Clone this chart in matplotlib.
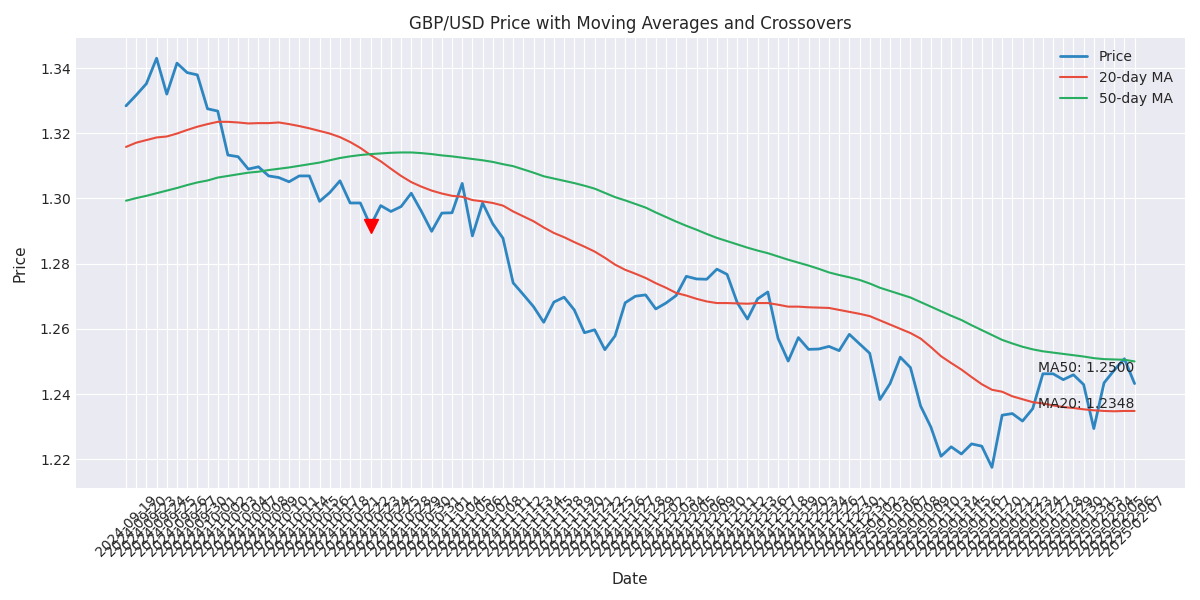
import numpy as np
import pandas as pd
import matplotlib
matplotlib.use('Agg')
import matplotlib.pyplot as plt

# Trading days shown on the chart (weekdays, Christmas and New Year missing)
dates = pd.bdate_range('2024-09-19', '2025-02-07')
dates = dates[~dates.isin(pd.to_datetime(['2024-12-25', '2025-01-01']))]
date_labels = [d.strftime('%Y-%m-%d') for d in dates]

# Close price
price = [
    1.3284, 1.3317, 1.3352, 1.3430, 1.3320, 1.3415, 1.3386, 1.3379, 1.3275, 1.3268,
    1.3133, 1.3128, 1.3090, 1.3097, 1.3069, 1.3064, 1.3051, 1.3069, 1.3069, 1.2991,
    1.3018, 1.3054, 1.2986, 1.2986, 1.2916, 1.2978, 1.2960, 1.2975, 1.3016, 1.2960,
    1.2899, 1.2955, 1.2956, 1.3046, 1.2885, 1.2986, 1.2922, 1.2878, 1.2741, 1.2705,
    1.2668, 1.2620, 1.2682, 1.2697, 1.2658, 1.2588, 1.2597, 1.2536, 1.2578, 1.2680,
    1.2700, 1.2704, 1.2661, 1.2679, 1.2702, 1.2761, 1.2753, 1.2752, 1.2783, 1.2767,
    1.2680, 1.2630, 1.2692, 1.2713, 1.2571, 1.2501, 1.2573, 1.2537, 1.2538, 1.2546,
    1.2533, 1.2583, 1.2554, 1.2525, 1.2383, 1.2432, 1.2513, 1.2481, 1.2363, 1.2299,
    1.2209, 1.2238, 1.2216, 1.2247, 1.2240, 1.2175, 1.2335, 1.2340, 1.2317, 1.2355,
    1.2462, 1.2462, 1.2444, 1.2459, 1.2429, 1.2294, 1.2434, 1.2473, 1.2508, 1.2432,
]

ma20 = [
    1.3158, 1.3171, 1.3179, 1.3187, 1.3190, 1.3199, 1.3210, 1.3220, 1.3228, 1.3235,
    1.3235, 1.3233, 1.3230, 1.3231, 1.3231, 1.3233, 1.3228, 1.3222, 1.3215, 1.3207,
    1.3199, 1.3188, 1.3173, 1.3155, 1.3133, 1.3114, 1.3091, 1.3069, 1.3050, 1.3036,
    1.3024, 1.3015, 1.3008, 1.3005, 1.2995, 1.2991, 1.2986, 1.2978, 1.2960, 1.2945,
    1.2930, 1.2911, 1.2894, 1.2881, 1.2866, 1.2852, 1.2837, 1.2818, 1.2797, 1.2781,
    1.2769, 1.2756, 1.2740, 1.2726, 1.2710, 1.2702, 1.2692, 1.2684, 1.2679, 1.2679,
    1.2678, 1.2677, 1.2679, 1.2679, 1.2674, 1.2668, 1.2668, 1.2666, 1.2665, 1.2664,
    1.2658, 1.2652, 1.2646, 1.2639, 1.2626, 1.2613, 1.2600, 1.2587, 1.2570, 1.2544,
    1.2516, 1.2495, 1.2475, 1.2452, 1.2430, 1.2413, 1.2407, 1.2393, 1.2384, 1.2375,
    1.2371, 1.2365, 1.2360, 1.2357, 1.2353, 1.2350, 1.2348, 1.2347, 1.2348, 1.2348,
]

ma50 = [
    1.2993, 1.3001, 1.3008, 1.3016, 1.3024, 1.3032, 1.3041, 1.3049, 1.3055, 1.3064,
    1.3069, 1.3074, 1.3079, 1.3082, 1.3087, 1.3091, 1.3095, 1.3100, 1.3105, 1.3110,
    1.3117, 1.3124, 1.3129, 1.3133, 1.3136, 1.3138, 1.3140, 1.3141, 1.3141, 1.3139,
    1.3136, 1.3132, 1.3129, 1.3125, 1.3121, 1.3117, 1.3112, 1.3105, 1.3099, 1.3089,
    1.3079, 1.3068, 1.3061, 1.3054, 1.3047, 1.3039, 1.3030, 1.3017, 1.3004, 1.2994,
    1.2983, 1.2972, 1.2957, 1.2943, 1.2929, 1.2916, 1.2904, 1.2891, 1.2879, 1.2869,
    1.2859, 1.2849, 1.2840, 1.2832, 1.2822, 1.2812, 1.2803, 1.2794, 1.2784, 1.2773,
    1.2765, 1.2758, 1.2750, 1.2739, 1.2726, 1.2716, 1.2706, 1.2696, 1.2682, 1.2668,
    1.2654, 1.2640, 1.2627, 1.2611, 1.2596, 1.2581, 1.2566, 1.2555, 1.2545, 1.2537,
    1.2531, 1.2527, 1.2523, 1.2519, 1.2515, 1.2510, 1.2507, 1.2506, 1.2505, 1.2500,
]

# Death cross: 20-day MA drops under the 50-day MA
cross_idx = [24]

plt.style.use('seaborn-v0_8-darkgrid')
plt.rcParams['font.family'] = 'DejaVu Sans'
fig, ax = plt.subplots(figsize=(12, 6), dpi=100)

x = np.arange(len(date_labels))
ax.plot(x, price, color='#2e86c1', lw=2, label='Price')
ax.plot(x, ma20, color='#e74c3c', lw=1.5, label='20-day MA')
ax.plot(x, ma50, color='#27ae60', lw=1.5, label='50-day MA')

for i in cross_idx:
    ax.plot(x[i], price[i], marker='v', color='red', markersize=10, zorder=5)

# last values of the averages
ax.text(x[-1], ma50[-1], f'MA50: {ma50[-1]:.4f}', ha='right', va='top', fontsize=10)
ax.text(x[-1], ma20[-1], f'MA20: {ma20[-1]:.4f}', ha='right', va='bottom', fontsize=10)

ax.set_xticks(x)
ax.set_xticklabels(date_labels, rotation=45)
ax.set_title('GBP/USD Price with Moving Averages and Crossovers')
ax.set_xlabel('Date', fontsize=11, labelpad=9)
ax.set_ylabel('Price', fontsize=11, labelpad=9)
ax.legend(loc='upper right')

fig.subplots_adjust(left=0.063, right=0.9875, top=0.937, bottom=0.187)
plt.savefig('out.png')
